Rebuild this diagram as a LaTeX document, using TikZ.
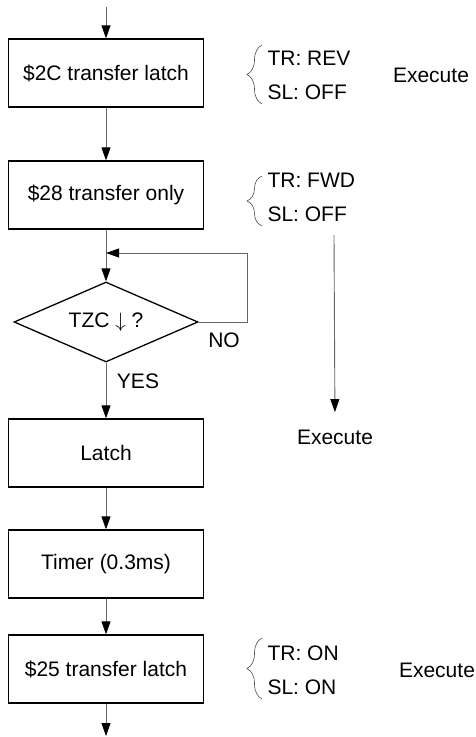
\documentclass[tikz,border=0pt]{standalone}
\usepackage{fontspec}
\setmainfont{Liberation Sans}
\usetikzlibrary{positioning,shapes.geometric,arrows.meta,decorations.pathreplacing}
\newcommand{\flowfont}{\fontsize{21}{25}\selectfont}
\newcommand{\pairfont}{\fontsize{21}{34}\selectfont}
\tikzset{
    flowbox/.style={draw=black, line width=1.3pt, minimum width=195pt, minimum height=68pt, inner sep=0pt, font=\flowfont},
    decision/.style={diamond, draw=black, line width=1.3pt, minimum width=184pt, minimum height=80pt, inner sep=0pt, aspect=2.3, font=\flowfont},
    flowline/.style={draw=black!60, line width=0.9pt, -{Triangle[length=13pt, width=9pt, color=black]}},
    pairlabel/.style={anchor=west, align=left, font=\pairfont},
    textlabel/.style={font=\flowfont},
    bracemark/.style={draw=black!70, line width=0.6pt, decorate, decoration={brace, amplitude=15pt}}
}
\begin{document}
\begin{tikzpicture}[x=1pt, y=-1pt]
    \useasboundingbox (0,0) rectangle (476,737);

    % --- main column ---
    \coordinate (start) at (106,7);
    \node[flowbox] (xfer2c) at (106,73) {\$2C transfer latch};
    \node[flowbox] (xfer28) at (106,195) {\$28 transfer only};
    \node[decision] (tzc) at (106,322) {TZC $\downarrow$ ?};
    \node[flowbox] (latch) at (106,453) {Latch};
    \node[flowbox] (timer) at (106,564) {Timer (0.3ms)};
    \node[flowbox] (xfer25) at (106,669) {\$25 transfer latch};
    \coordinate (finish) at (106,736);

    % --- connectors ---
    \draw[flowline] (start) -- (xfer2c);
    \draw[flowline] (xfer2c) -- (xfer28);
    \draw[flowline] (xfer28) -- (tzc.north);
    \draw[flowline] (tzc.south) -- (latch);
    \draw[flowline] (latch) -- (timer);
    \draw[flowline] (timer) -- (xfer25);
    \draw[flowline] (xfer25) -- (finish);

    % loop back when NO
    \coordinate (loopR) at (247,253);
    \coordinate (loopL) at (106,253);
    \draw[flowline] (tzc.east) -| (loopR) -- (loopL);
    \node[textlabel] (no) at (224,340) {NO};
    \node[textlabel] (yes) at (138,381) {YES};

    % --- settings on the right ---
    \node[pairlabel] (set2c) at (264,75) {TR: REV\\SL: OFF};
    \draw[bracemark] (262,104) -- (262,45);
    \node[textlabel] (exec2c) at (431,75) {Execute};

    \node[pairlabel] (set28) at (264,197) {TR: FWD\\SL: OFF};
    \draw[bracemark] (262,226) -- (262,176);
    \coordinate (execTop) at (334,235);
    \node[textlabel] (exec28) at (335,437) {Execute};
    \draw[flowline, shorten >=14pt] (execTop) -- (exec28.north);

    \node[pairlabel] (set25) at (264,670) {TR: ON\\SL: ON};
    \draw[bracemark] (262,699) -- (262,638);
    \node[textlabel] (exec25) at (437,670) {Execute};
\end{tikzpicture}
\end{document}
